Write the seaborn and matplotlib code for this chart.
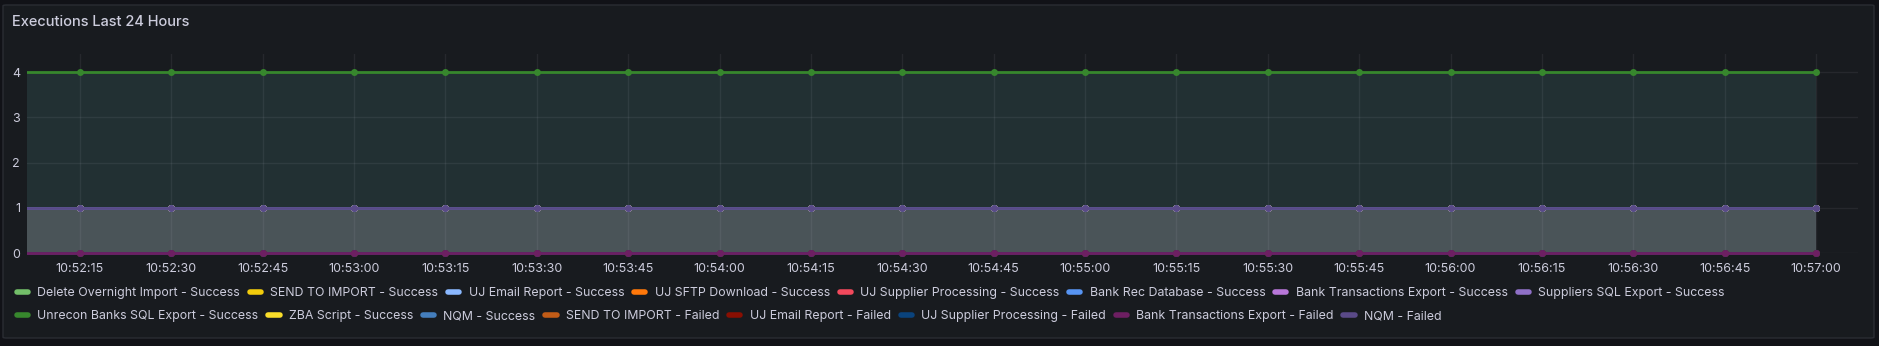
import numpy as np
import pandas as pd
import matplotlib
matplotlib.use("Agg")
import matplotlib.pyplot as plt
import matplotlib.dates as mdates
from matplotlib.lines import Line2D
from matplotlib.patches import FancyBboxPatch
from matplotlib.transforms import Bbox, TransformedBbox
import seaborn as sns

# ---------------- data ----------------
times = pd.date_range("2024-01-01 10:52:00", "2024-01-01 10:57:00", freq="15s")

series_names = [
    "Delete Overnight Import - Success",
    "SEND TO IMPORT - Success",
    "UJ Email Report - Success",
    "UJ SFTP Download - Success",
    "UJ Supplier Processing - Success",
    "Bank Rec Database - Success",
    "Bank Transactions Export - Success",
    "Suppliers SQL Export - Success",
    "Unrecon Banks SQL Export - Success",
    "ZBA Script - Success",
    "NQM - Success",
    "SEND TO IMPORT - Failed",
    "UJ Email Report - Failed",
    "UJ Supplier Processing - Failed",
    "Bank Transactions Export - Failed",
    "NQM - Failed",
]
series_colors = [
    "#73BF69", "#F2CC0C", "#8AB8FF", "#FF780A", "#F2495C", "#5794F2",
    "#B877D9", "#8F70C7", "#37872D", "#FADE2A", "#447EBC", "#C15C17",
    "#890F02", "#0A437C", "#6D1F62", "#5A4A88",
]

delete_overnight_success = [1, 1, 1, 1, 1, 1, 1, 1, 1, 1, 1, 1, 1, 1, 1, 1, 1, 1, 1, 1, 1]
send_to_import_success   = [1, 1, 1, 1, 1, 1, 1, 1, 1, 1, 1, 1, 1, 1, 1, 1, 1, 1, 1, 1, 1]
uj_email_success         = [1, 1, 1, 1, 1, 1, 1, 1, 1, 1, 1, 1, 1, 1, 1, 1, 1, 1, 1, 1, 1]
uj_sftp_success          = [1, 1, 1, 1, 1, 1, 1, 1, 1, 1, 1, 1, 1, 1, 1, 1, 1, 1, 1, 1, 1]
uj_supplier_success      = [1, 1, 1, 1, 1, 1, 1, 1, 1, 1, 1, 1, 1, 1, 1, 1, 1, 1, 1, 1, 1]
bank_rec_success         = [1, 1, 1, 1, 1, 1, 1, 1, 1, 1, 1, 1, 1, 1, 1, 1, 1, 1, 1, 1, 1]
bank_trans_success       = [1, 1, 1, 1, 1, 1, 1, 1, 1, 1, 1, 1, 1, 1, 1, 1, 1, 1, 1, 1, 1]
suppliers_sql_success    = [1, 1, 1, 1, 1, 1, 1, 1, 1, 1, 1, 1, 1, 1, 1, 1, 1, 1, 1, 1, 1]
unrecon_banks_success    = [4, 4, 4, 4, 4, 4, 4, 4, 4, 4, 4, 4, 4, 4, 4, 4, 4, 4, 4, 4, 4]
zba_success              = [1, 1, 1, 1, 1, 1, 1, 1, 1, 1, 1, 1, 1, 1, 1, 1, 1, 1, 1, 1, 1]
nqm_success              = [1, 1, 1, 1, 1, 1, 1, 1, 1, 1, 1, 1, 1, 1, 1, 1, 1, 1, 1, 1, 1]
send_to_import_failed    = [0, 0, 0, 0, 0, 0, 0, 0, 0, 0, 0, 0, 0, 0, 0, 0, 0, 0, 0, 0, 0]
uj_email_failed          = [0, 0, 0, 0, 0, 0, 0, 0, 0, 0, 0, 0, 0, 0, 0, 0, 0, 0, 0, 0, 0]
uj_supplier_failed       = [0, 0, 0, 0, 0, 0, 0, 0, 0, 0, 0, 0, 0, 0, 0, 0, 0, 0, 0, 0, 0]
bank_trans_failed        = [0, 0, 0, 0, 0, 0, 0, 0, 0, 0, 0, 0, 0, 0, 0, 0, 0, 0, 0, 0, 0]
nqm_failed               = [1, 1, 1, 1, 1, 1, 1, 1, 1, 1, 1, 1, 1, 1, 1, 1, 1, 1, 1, 1, 1]

series_values = [
    delete_overnight_success, send_to_import_success, uj_email_success,
    uj_sftp_success, uj_supplier_success, bank_rec_success, bank_trans_success,
    suppliers_sql_success, unrecon_banks_success, zba_success, nqm_success,
    send_to_import_failed, uj_email_failed, uj_supplier_failed,
    bank_trans_failed, nqm_failed,
]

yticks = [0, 1, 2, 3, 4]
title = "Executions Last 24 Hours"

# ---------------- style ----------------
W, H = 1879, 346
PAGE_BG = "#111217"
PANEL_BG = "#181b1f"
TEXT = "#ccccdc"

sns.set_theme(style="dark")
plt.rcParams["font.family"] = ["Inter", "DejaVu Sans"]

fig = plt.figure(figsize=(W / 100, H / 100), dpi=100, facecolor=PAGE_BG)

panel = FancyBboxPatch((3 / W, 1 - 338 / H), (1874 - 3) / W, (338 - 5) / H,
                       boxstyle="round,pad=0,rounding_size=0.002",
                       transform=fig.transFigure, facecolor=PANEL_BG,
                       edgecolor="#2a2d33", linewidth=1, zorder=-10)
fig.patches.append(panel)

fig.text(12 / W, 1 - 22 / H, title, color=TEXT, fontsize=10.5,
         fontweight="medium", va="center", ha="left")

ax_left, ax_right = 27, 1858
ax_top, ax_bottom = 54, 253
ax = fig.add_axes([ax_left / W, 1 - ax_bottom / H, (ax_right - ax_left) / W,
                   (ax_bottom - ax_top) / H])
ax.set_facecolor("none")
ax.set_zorder(1)

# long-form frame
frames = []
for name, vals in zip(series_names, series_values):
    frames.append(pd.DataFrame({"time": times, "value": vals, "series": name}))
df = pd.concat(frames, ignore_index=True)

# fills (under the top series and the "1" level)
ax.fill_between(times, 0, unrecon_banks_success, color="#223033", lw=0, zorder=1)
ax.fill_between(times, 0, nqm_failed, color="#4a5458", lw=0, zorder=1.1)

sns.lineplot(data=df, x="time", y="value", hue="series", hue_order=series_names,
             palette=series_colors, marker="o", markersize=5, markeredgewidth=0,
             linewidth=2, legend=False, ax=ax, zorder=2)
clipbox = TransformedBbox(Bbox([[0, -0.2], [1, 1.2]]), ax.transAxes)
for ln in ax.lines:
    ln.set_clip_box(clipbox)

ax.set_xlim(pd.Timestamp("2024-01-01 10:52:06.3"), pd.Timestamp("2024-01-01 10:57:06.9"))
ax.set_ylim(0, 4.4)
ax.set_yticks(yticks)
ax.set_yticklabels([str(v) for v in yticks])
ax.xaxis.set_major_locator(mdates.SecondLocator(bysecond=[0, 15, 30, 45]))
ax.xaxis.set_major_formatter(mdates.DateFormatter("%H:%M:%S"))
ax.set_xlabel("")
ax.set_ylabel("")
for s in ax.spines.values():
    s.set_visible(False)
ax.tick_params(axis="both", length=0, colors=TEXT, labelsize=9)
ax.tick_params(axis="x", pad=7)
ax.tick_params(axis="y", pad=5)
ax.set_axisbelow("line")
ax.grid(True, color="#ccccdc", alpha=0.08, linewidth=1)

# ---------------- legend (two flowing rows) ----------------
handles = [Line2D([0], [0], color=c, lw=4, solid_capstyle="round") for c in series_colors]
common = dict(frameon=False, fontsize=8.9, labelcolor=TEXT, handlelength=0.9,
              handletextpad=0.75, columnspacing=0.8, borderpad=0,
              borderaxespad=0, loc="center left")
leg1 = fig.legend(handles[:8], series_names[:8], ncol=8,
                  bbox_to_anchor=(17 / W, 1 - 293 / H), **common)
leg2 = fig.legend(handles[8:], series_names[8:], ncol=8,
                  bbox_to_anchor=(17 / W, 1 - 316 / H), **common)

fig.savefig("out.png", dpi=100, facecolor=PAGE_BG)
